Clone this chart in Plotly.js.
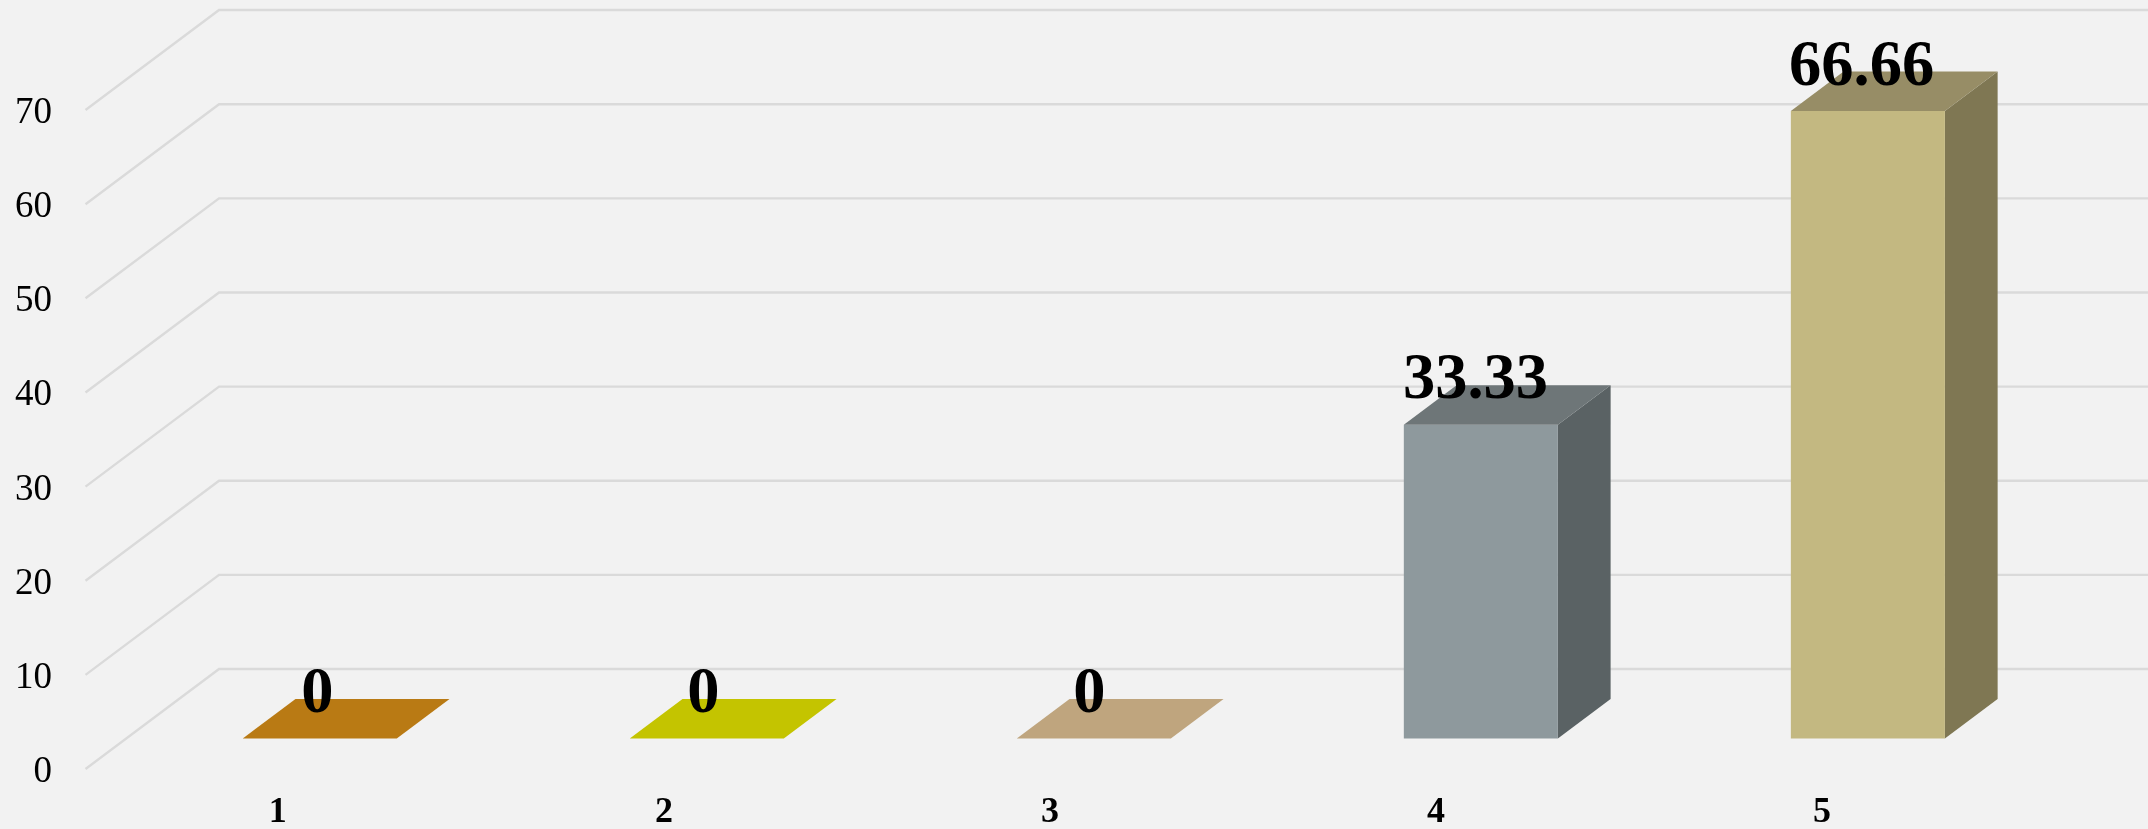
<!DOCTYPE html>
<html>
<head>
<meta charset="utf-8">
<script src="https://cdn.plot.ly/plotly-3.0.1.min.js"></script>
<style>html,body{margin:0;padding:0;background:#f2f2f2}#chart{width:2148px;height:829px;filter:blur(0.5px)}</style>
</head>
<body>
<div id="chart"></div>
<script>
const categories = [1, 2, 3, 4, 5];
const values = [0, 0, 0, 33.33, 66.66];
const valueLabels = ['0', '0', '0', '33.33', '66.66'];
const yTicks = [0, 10, 20, 30, 40, 50, 60, 70];
const frontColors = ['#b97a14', '#c4c400', '#bfa57e', '#8e999d', '#c3b881'];
const topColors = ['#b97a14', '#c4c400', '#bfa57e', '#6e7678', '#978d66'];
const sideColors = ['#8a5b0f', '#939300', '#8f7c5e', '#5a6264', '#7f7753'];

// oblique projection of the 3-D chart box
const DEPTH_X = 0.345, DEPTH_Y = 10.62;   // full floor depth, in axis units
const BAR_WIDTH = 0.398, BAR_NEAR = 0.305, BAR_FAR = 0.70;
const LABEL_DX = 0.099, LABEL_DY = 7.75, LABEL_SQUEEZE = 0.0025;
const TICK_DX = -0.003, TICK_SQUEEZE = 0.0025;
const WALL_LEFT = 0.5, WALL_RIGHT = 5.5;

const px = (c, d) => c + d * DEPTH_X;
const py = (v, d) => v + d * DEPTH_Y;
const traces = [];

const gx = [], gy = [];
yTicks.forEach(t => {
  gx.push(px(WALL_LEFT, 0), px(WALL_LEFT, 1), px(WALL_RIGHT, 1), null);
  gy.push(py(t, 0), py(t, 1), py(t, 1), null);
});
traces.push({type: 'scatter', mode: 'lines', x: gx, y: gy,
  line: {color: '#dadada', width: 2.4}, hoverinfo: 'skip', showlegend: false});

function face(xs, ys, color) {
  traces.push({type: 'scatter', mode: 'lines', x: xs, y: ys, fill: 'toself', fillcolor: color,
    line: {width: 0, color: color}, hoverinfo: 'skip', showlegend: false});
}
categories.forEach((c, i) => {
  const v = values[i], l = c - BAR_WIDTH / 2, r = c + BAR_WIDTH / 2;
  if (v > 0) {
    face([px(r, BAR_NEAR), px(r, BAR_FAR), px(r, BAR_FAR), px(r, BAR_NEAR), px(r, BAR_NEAR)],
         [py(0, BAR_NEAR), py(0, BAR_FAR), py(v, BAR_FAR), py(v, BAR_NEAR), py(0, BAR_NEAR)], sideColors[i]);
    face([px(l, BAR_NEAR), px(r, BAR_NEAR), px(r, BAR_NEAR), px(l, BAR_NEAR), px(l, BAR_NEAR)],
         [py(0, BAR_NEAR), py(0, BAR_NEAR), py(v, BAR_NEAR), py(v, BAR_NEAR), py(0, BAR_NEAR)], frontColors[i]);
  }
  face([px(l, BAR_NEAR), px(r, BAR_NEAR), px(r, BAR_FAR), px(l, BAR_FAR), px(l, BAR_NEAR)],
       [py(v, BAR_NEAR), py(v, BAR_NEAR), py(v, BAR_FAR), py(v, BAR_FAR), py(v, BAR_NEAR)], topColors[i]);
});

traces.push({type: 'scatter', mode: 'text',
  x: categories.map(c => c + LABEL_DX - LABEL_SQUEEZE * (c - 1)), y: values.map(v => v + LABEL_DY),
  text: valueLabels, textposition: 'middle center', cliponaxis: false,
  textfont: {family: '"Liberation Serif", serif', size: 64.5, color: '#000', weight: 700},
  hoverinfo: 'skip', showlegend: false});

Plotly.newPlot('chart', traces, {
  width: 2148, height: 829,
  margin: {l: 58, r: 0, t: 0, b: 44, pad: 0},
  paper_bgcolor: '#f2f2f2', plot_bgcolor: '#f2f2f2',
  xaxis: {range: [0.4289, 5.829], tickmode: 'array',
    tickvals: categories.map(c => c + TICK_DX - TICK_SQUEEZE * (c - 1)), ticktext: categories.map(String),
    showgrid: false, zeroline: false, showline: false, ticks: '',
    tickfont: {family: '"Liberation Serif", serif', size: 36, color: '#000', weight: 700}},
  yaxis: {range: [-1.7, 81.69], tickmode: 'array', tickvals: yTicks, ticktext: yTicks.map(String),
    showgrid: false, zeroline: false, showline: false, ticks: '', ticklabelstandoff: 5,
    tickfont: {family: '"Liberation Serif", serif', size: 37, color: '#000'}}
}, {displayModeBar: false, staticPlot: true});
</script>
</body>
</html>
